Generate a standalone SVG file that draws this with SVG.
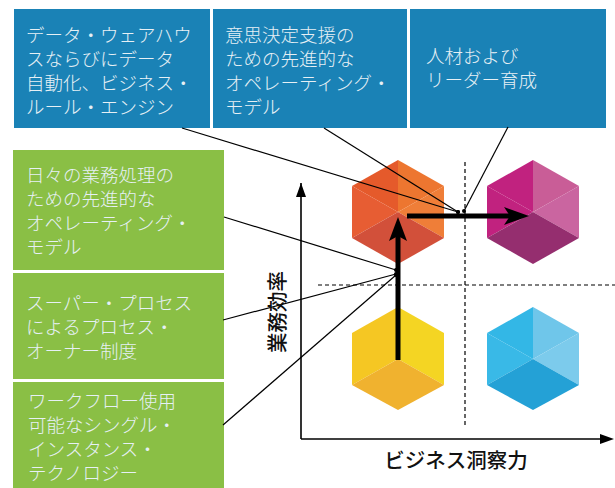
<svg xmlns="http://www.w3.org/2000/svg" width="615" height="488" viewBox="0 0 615 488">
<style>
.box{font-family:"Noto Sans CJK JP","Liberation Serif",serif;font-size:18.5px;fill:#e6f0f5;font-weight:300}
.blue{fill:#1a82b6}.green{fill:#8abf45}
.ln{stroke:#000;stroke-width:1.2;fill:none}
.dash{stroke:#000;stroke-width:1.2;stroke-dasharray:4 3;fill:none}
.ax{font-family:"Noto Sans CJK JP","Liberation Sans",sans-serif;font-size:20.5px;fill:#111;font-weight:500}
</style>
<defs>
<marker id="dot" markerWidth="5" markerHeight="5" refX="2.5" refY="2.5" markerUnits="userSpaceOnUse"><circle cx="2.5" cy="2.5" r="2" fill="#000"/></marker>
</defs>
<g id="hex-orange">
<polygon points="398,160 398,212 352,186" fill="#e55a2b"/>
<polygon points="398,160 444,186 398,212" fill="#ed7630"/>
<polygon points="352,186 398,212 352,238" fill="#e75d33"/>
<polygon points="444,186 444,238 398,212" fill="#ef7e38"/>
<polygon points="352,238 398,212 444,238 398,264" fill="#d2503a"/>
</g>
<g id="hex-magenta">
<polygon points="533,160 533,212 487,186" fill="#c1227f"/>
<polygon points="533,160 579,186 533,212" fill="#c95d97"/>
<polygon points="487,186 533,212 487,238" fill="#c1227f"/>
<polygon points="579,186 579,238 533,212" fill="#ca65a0"/>
<polygon points="487,238 533,212 579,238 533,264" fill="#952e6f"/>
</g>
<g id="hex-yellow">
<polygon points="352,333 398,307 398,359 352,385" fill="#f5c723"/>
<polygon points="398,307 444,333 444,385 398,359" fill="#f4d523"/>
<polygon points="352,385 398,359 444,385 398,410" fill="#f0b22f"/>
</g>
<g id="hex-blue">
<polygon points="533,307 533,359 487,333" fill="#33b7e6"/>
<polygon points="533,307 579,333 533,359" fill="#6fc6ea"/>
<polygon points="487,333 533,359 487,385" fill="#39b9e7"/>
<polygon points="579,333 579,385 533,359" fill="#7ccbec"/>
<polygon points="487,385 533,359 579,385 533,410" fill="#24a1d6"/>
</g>
<g id="box-b1"><rect class="blue" x="14" y="9" width="196" height="119"/>
<text class="box"><tspan x="26" y="41.5">データ・ウェアハウ</tspan><tspan x="26" y="65.5">スならびにデータ</tspan><tspan x="26" y="89.5">自動化、ビジネス・</tspan><tspan x="26" y="113.5">ルール・エンジン</tspan></text></g>
<g id="box-b2"><rect class="blue" x="213" y="9" width="194" height="119"/>
<text class="box"><tspan x="225" y="41.5">意思決定支援の</tspan><tspan x="225" y="65.5">ための先進的な</tspan><tspan x="225" y="89.5">オペレーティング・</tspan><tspan x="225" y="113.5">モデル</tspan></text></g>
<g id="box-b3"><rect class="blue" x="410" y="9" width="196" height="119"/>
<text class="box"><tspan x="426" y="63">人材および</tspan><tspan x="426" y="87">リーダー育成</tspan></text></g>
<g id="box-g1"><rect class="green" x="13" y="150" width="211" height="120"/>
<text class="box"><tspan x="26" y="181.5">日々の業務処理の</tspan><tspan x="26" y="205.5">ための先進的な</tspan><tspan x="26" y="229.5">オペレーティング・</tspan><tspan x="26" y="253.5">モデル</tspan></text></g>
<g id="box-g2"><rect class="green" x="13" y="273" width="211" height="106"/>
<text class="box"><tspan x="26" y="309.5">スーパー・プロセス</tspan><tspan x="26" y="333.5">によるプロセス・</tspan><tspan x="26" y="357.5">オーナー制度</tspan></text></g>
<g id="box-g3"><rect class="green" x="13" y="382" width="211" height="106"/>
<text class="box"><tspan x="28" y="408">ワークフロー使用</tspan><tspan x="28" y="432">可能なシングル・</tspan><tspan x="28" y="456">インスタンス・</tspan><tspan x="28" y="480">テクノロジー</tspan></text></g>
<g id="connectors">
<line class="dash" x1="318" y1="285" x2="615" y2="285"/>
<line class="dash" x1="465" y1="162" x2="465" y2="426"/>
<line class="ln" x1="182" y1="128" x2="458" y2="212" marker-end="url(#dot)"/>
<line class="ln" x1="324" y1="128" x2="458" y2="212" marker-end="url(#dot)"/>
<line class="ln" x1="508" y1="127" x2="464" y2="211" marker-end="url(#dot)"/>
<line class="ln" x1="224" y1="217" x2="396" y2="270" marker-end="url(#dot)"/>
<line class="ln" x1="223" y1="320" x2="396" y2="274" marker-end="url(#dot)"/>
<line class="ln" x1="223" y1="425" x2="396" y2="275" marker-end="url(#dot)"/>
<path d="M301 439V183" stroke="#000" stroke-width="1.6" fill="none"/>
<polygon points="301,183 296,197 306,197" fill="#000"/>
<path d="M301 439H600" stroke="#000" stroke-width="1.6" fill="none"/>
<polygon points="614,439 600,434 600,444" fill="#000"/>
<path d="M398 360V235" stroke="#000" stroke-width="5" fill="none"/>
<polygon points="398,217 407,241 398,236 389,241" fill="#000"/>
<path d="M407 216H515" stroke="#000" stroke-width="5" fill="none"/>
<polygon points="529,216 504,207 510,216 504,225" fill="#000"/>
</g>
<text class="ax" x="456" y="468" text-anchor="middle" id="label-x">ビジネス洞察力</text>
<text class="ax" transform="translate(285,312) rotate(-90)" text-anchor="middle" id="label-y">業務効率</text>
</svg>
